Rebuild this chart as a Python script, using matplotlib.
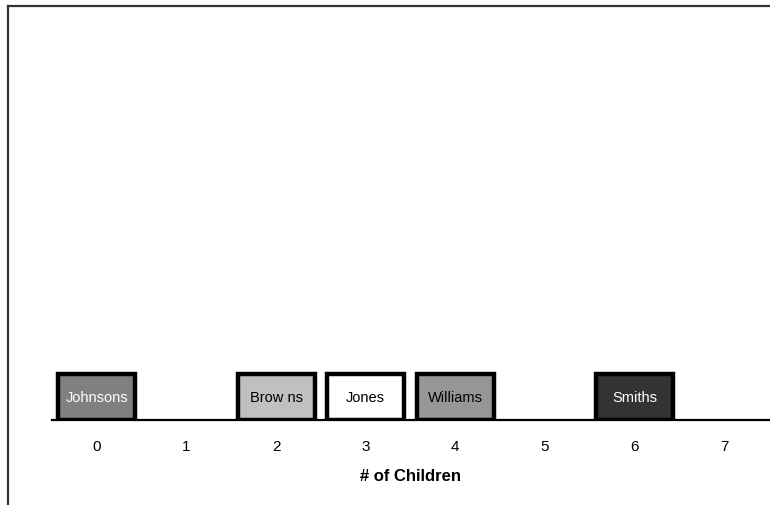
import matplotlib

matplotlib.use("Agg")
import matplotlib.pyplot as plt
from matplotlib.lines import Line2D

# data
families = ["Johnsons", "Brow ns", "Jones", "Williams", "Smiths"]
children = [0, 2, 3, 4, 6]
heights = [1, 1, 1, 1, 1]
fills = ["#808080", "#c0c0c0", "#ffffff", "#969696", "#333333"]
text_colors = ["white", "black", "black", "black", "white"]
ticks = [0, 1, 2, 3, 4, 5, 6, 7]

plt.rcParams["font.family"] = ["Liberation Sans", "DejaVu Sans"]

fig = plt.figure(figsize=(7.7, 5.06), dpi=100, facecolor="white")
ax = fig.add_axes([0.0675, 0.167, 0.9312, 0.817])

ax.bar(children, heights, width=0.86, color=fills, edgecolor="black",
       linewidth=3.2, zorder=2)
for x, h, name, tc in zip(children, heights, families, text_colors):
    ax.text(x, h / 2, name, ha="center", va="center", color=tc, fontsize=10.5, zorder=3)

ax.set_xlim(-0.5, 7.5)
ax.set_ylim(0, 8.8)
ax.set_xticks(ticks)
ax.set_xticklabels([str(t) for t in ticks], fontsize=11)
ax.tick_params(axis="x", length=0, pad=13)
ax.set_yticks([])
for side in ("left", "right", "top"):
    ax.spines[side].set_visible(False)
ax.spines["bottom"].set_linewidth(1.6)
ax.spines["bottom"].set_zorder(4)
ax.set_xlabel("# of Children", fontsize=12, fontweight="bold", labelpad=11)

# outer frame (left and top edges)
fig.add_artist(Line2D([8 / 770, 8 / 770], [0, 1 - 7 / 506], transform=fig.transFigure,
                      color="#333333", linewidth=1.6))
fig.add_artist(Line2D([8 / 770, 1], [1 - 7 / 506, 1 - 7 / 506], transform=fig.transFigure,
                      color="#333333", linewidth=1.6))

fig.savefig("out.png", dpi=100)
